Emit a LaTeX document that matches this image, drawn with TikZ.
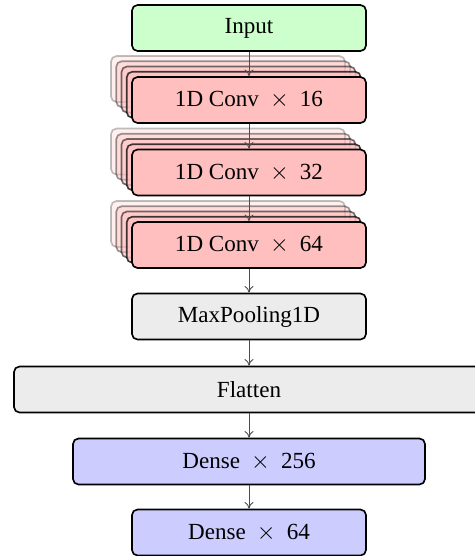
\documentclass[tikz,border=0pt]{standalone}
\usepackage{fontspec}
\setmainfont{Liberation Serif}
\usetikzlibrary{arrows.meta}
\begin{document}
\begin{tikzpicture}[x=0.455pt,y=-0.455pt,
  box/.style={draw=black,line width=0.75pt,rounded corners=2.5pt,minimum height=46*0.455pt,inner sep=0pt,font=\fontsize{10.5}{12}\selectfont},
  inbox/.style={box,fill=green!20,minimum width=234*0.455pt},
  convbox/.style={box,fill=red!25,minimum width=234*0.455pt},
  ghost/.style={convbox,opacity=#1},
  poolbox/.style={box,fill=gray!15,minimum width=234*0.455pt},
  flatbox/.style={box,fill=gray!15,minimum width=470*0.455pt},
  densebox/.style={box,fill=blue!20,minimum width=352*0.455pt},
  d64box/.style={box,fill=blue!20,minimum width=234*0.455pt},
  link/.style={draw=black!70,line width=0.4pt,-{To[length=3pt,width=4pt]}}]
\useasboundingbox (0,0) rectangle (475,556);
\node[inbox] (input) at (249,28) {Input};
% conv stacks
\foreach \nm/\yy in {ca/100,cb/172.5,cc/245}{
  \foreach \k/\op in {4/0.25,3/0.4,2/0.55,1/0.75}{
    \node[ghost=\op] (\nm-\k) at (249-5.25*\k,\yy-5.25*\k) {};
  }
}
\node[convbox] (ca) at (249,100) {1D Conv ${}\times{}$ 16};
\node[convbox] (cb) at (249,172.5) {1D Conv ${}\times{}$ 32};
\node[convbox] (cc) at (249,245) {1D Conv ${}\times{}$ 64};
\node[poolbox] (pool) at (249,316.5) {MaxPooling1D};
\node[flatbox] (flat) at (249,389.5) {Flatten};
\node[densebox] (d1) at (249,461.5) {Dense ${}\times{}$ 256};
\node[d64box] (d2) at (249,532.5) {Dense ${}\times{}$ 64};
\draw[link] (input) -- (ca);
\draw[link] (ca) -- (cb);
\draw[link] (cb) -- (cc);
\draw[link] (cc) -- (pool);
\draw[link] (pool) -- (flat);
\draw[link] (flat) -- (d1);
\draw[link] (d1) -- (d2);
\end{tikzpicture}
\end{document}
